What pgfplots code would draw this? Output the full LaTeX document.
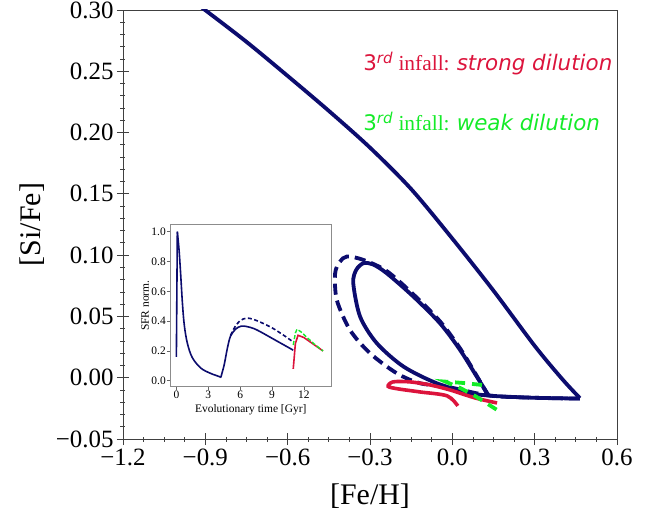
\documentclass[border=0pt]{standalone}
\usepackage{fontspec}
\setmainfont{Liberation Serif}
\newfontfamily\djv{DejaVu Sans}
\usepackage{pgfplots}
\pgfplotsset{compat=1.18}

\definecolor{navyline}{RGB}{12,12,110}
\definecolor{strongred}{RGB}{220,20,60}
\definecolor{weakgreen}{RGB}{20,235,40}

\begin{document}
\begin{tikzpicture}
\useasboundingbox (-123bp,-76bp) rectangle (539bp,439bp);
\begin{axis}[
  name=main,
  scale only axis, width=494bp, height=429bp,
  xmin=-1.2, xmax=0.6, ymin=-0.05, ymax=0.30,
  xtick={-1.2,-0.9,-0.6,-0.3,0,0.3,0.6},
  xticklabels={−1.2,−0.9,−0.6,−0.3,0.0,0.3,0.6},
  ytick={-0.05,0,0.05,0.10,0.15,0.20,0.25,0.30},
  yticklabels={−0.05,0.00,0.05,0.10,0.15,0.20,0.25,0.30},
  minor x tick num=3, minor y tick num=4,
  tick pos=left, tick align=center,
  major tick length=12bp, minor tick length=5bp,
  axis line style={black!75, line width=0.8bp},
  every tick/.style={black!75, line width=0.8bp},
  ticklabel style={font=\fontsize{25}{25}\selectfont},
  xlabel={[Fe/H]}, ylabel={[Si/Fe]},
  label style={font=\fontsize{30}{30}\selectfont},
  xlabel style={yshift=-11bp}, ylabel style={yshift=5bp},
  clip=true,
]
% first infall: down to the metal-rich tip
\addplot[navyline, line width=3.8bp, smooth, tension=0.5] coordinates {
  (-1.00,0.3165) (-0.901,0.300) (-0.75,0.274) (-0.60,0.2462) (-0.45,0.2177)
  (-0.30,0.1877) (-0.15,0.1539) (0.0,0.1135) (0.15,0.0710) (0.30,0.0260)
  (0.40,-0.0010) (0.465,-0.0167)
};
% second infall: dilution loop, reference model
\addplot[navyline, line width=3.8bp, smooth, tension=0.5] coordinates {
  (0.465,-0.0170) (0.320,-0.0165) (0.200,-0.0155) (0.137,-0.0146) (0.065,-0.0126)
  (-0.057,-0.0045) (-0.178,0.0091) (-0.275,0.0281) (-0.336,0.0498) (-0.361,0.0771)
  (-0.350,0.0880) (-0.324,0.0934) (-0.290,0.0925) (-0.239,0.0852) (-0.142,0.0662)
  (-0.045,0.0444) (0.028,0.0227) (0.089,0.0009) (0.131,-0.0140)
};
% second infall: alternative model
\addplot[navyline, line width=3.8bp, smooth, tension=0.5, dash pattern=on 11bp off 6bp] coordinates {
  (0.465,-0.0170) (0.320,-0.0165) (0.137,-0.0146) (-0.022,-0.0072) (-0.118,-0.0045)
  (-0.203,0.0037) (-0.300,0.0200) (-0.373,0.0390) (-0.421,0.0635) (-0.427,0.0852)
  (-0.410,0.0945) (-0.384,0.0989) (-0.324,0.0961) (-0.239,0.0870) (-0.142,0.0680)
  (-0.045,0.0460) (0.028,0.0240) (0.089,0.0015) (0.125,-0.0125)
};
% third infall, strong dilution
\addplot[strongred, line width=3.6bp, smooth, tension=0.5] coordinates {
  (0.020,-0.0230) (-0.019,-0.0148) (-0.118,-0.0116) (-0.198,-0.0091) (-0.234,-0.0071)
  (-0.216,-0.0034) (-0.154,-0.0034) (-0.081,-0.0059) (-0.008,-0.0100) (0.083,-0.0165)
  (0.163,-0.0206)
};
% third infall, weak dilution
\addplot[weakgreen, line width=3.8bp, dash pattern=on 10bp off 7bp] coordinates {
  (0.108,-0.0059) (0.035,-0.0042) (-0.025,-0.0032) (0.028,-0.0083) (0.083,-0.0149)
  (0.163,-0.0263)
};
\node[anchor=base west, text=strongred, inner sep=0pt, font=\fontsize{21.5}{21.5}\selectfont]
  at (axis cs:-0.325,0.2505)
  {{\djv 3}\textsuperscript{\djv\itshape rd} infall: {\djv\itshape strong dilution}};
\node[anchor=base west, text=weakgreen, inner sep=0pt, font=\fontsize{21.5}{21.5}\selectfont]
  at (axis cs:-0.325,0.2015)
  {{\djv 3}\textsuperscript{\djv\itshape rd} infall: {\djv\itshape weak dilution}};
\end{axis}

% star formation history
\begin{axis}[
  at={(47bp,52.3bp)}, anchor=south west,
  scale only axis, width=161.5bp, height=162bp,
  xmin=-0.6, xmax=14.6, ymin=-0.04, ymax=1.047,
  xtick={0,3,6,9,12}, xticklabels={0,3,6,9,12},
  ytick={0,0.2,0.4,0.6,0.8,1.0}, yticklabels={0.0,0.2,0.4,0.6,0.8,1.0},
  tick pos=left, tick align=outside, major tick length=3bp,
  axis line style={black!45, line width=0.6bp},
  every tick/.style={black!60, line width=0.6bp},
  ticklabel style={font=\fontsize{11.5}{11.5}\selectfont, inner sep=1bp},
  xlabel={Evolutionary time [Gyr]}, ylabel={SFR norm.},
  label style={font=\fontsize{11.5}{11.5}\selectfont},
  xlabel style={yshift=-1bp}, ylabel style={yshift=-2bp},
  axis background/.style={fill=white},
]
\addplot[navyline, line width=1.6bp] coordinates {(0.0,0.16) (0.09,1.0)};
\addplot[navyline, line width=1.6bp, smooth, tension=0.55] coordinates {
  (0.09,1.0) (0.25,0.88) (0.4,0.72) (0.57,0.52) (0.75,0.37) (1.04,0.25) (1.5,0.155)
  (2.3,0.085) (3.2,0.05) (4.0,0.029) (4.18,0.022)
};
\addplot[navyline, line width=1.6bp, smooth, tension=0.55] coordinates {
  (4.18,0.022) (4.5,0.107) (4.8,0.218) (5.1,0.300) (5.6,0.348) (6.1,0.366)
  (6.6,0.364) (7.3,0.350) (8.0,0.325) (9.0,0.285) (10.0,0.245) (11.0,0.205)
};
\addplot[navyline, line width=1.6bp, smooth, tension=0.55, dash pattern=on 4bp off 2.5bp] coordinates {
  (5.1,0.304) (5.5,0.36) (6.0,0.403) (6.6,0.42) (7.2,0.413) (8.0,0.39) (9.0,0.355)
  (10.0,0.31) (11.0,0.26)
};
\addplot[strongred, line width=1.6bp] coordinates {
  (11.0,0.08) (11.2,0.25) (11.45,0.305) (12.0,0.29) (12.5,0.265) (13.0,0.24)
  (13.5,0.215) (13.8,0.20)
};
\addplot[weakgreen, line width=1.4bp, dash pattern=on 4bp off 2bp] coordinates {
  (11.0,0.24) (11.2,0.32) (11.35,0.345) (11.7,0.33) (12.3,0.29) (13.0,0.245) (13.8,0.20)
};
\end{axis}
\end{tikzpicture}
\end{document}
